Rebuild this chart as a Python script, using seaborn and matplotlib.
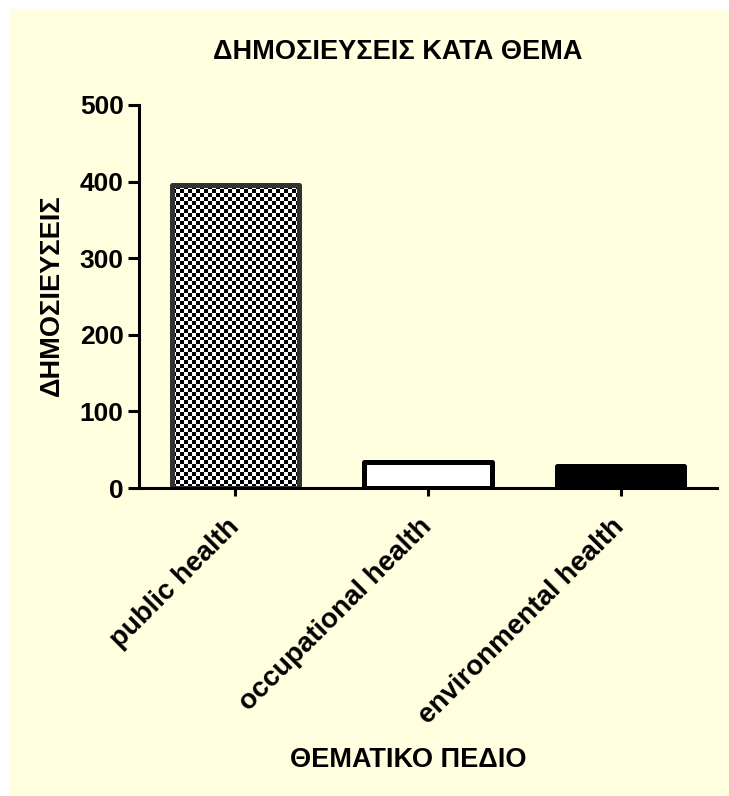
import numpy as np
import pandas as pd
import matplotlib
matplotlib.use("Agg")
import matplotlib.pyplot as plt
from matplotlib.patches import Rectangle
import seaborn as sns

categories = ["public health", "occupational health", "environmental health"]
values = [395, 34, 29]
title = "ΔΗΜΟΣΙΕΥΣΕΙΣ ΚΑΤΑ ΘΕΜΑ"
xlabel = "ΘΕΜΑΤΙΚΟ ΠΕΔΙΟ"
ylabel = "ΔΗΜΟΣΙΕΥΣΕΙΣ"
yticks = [0, 100, 200, 300, 400, 500]

BG = "#FFFEDF"
sns.set_style("white")
plt.rcParams["font.family"] = ["Liberation Sans", "DejaVu Sans"]
plt.rcParams["font.weight"] = "bold"
for k in ["text.color", "axes.labelcolor", "xtick.color", "ytick.color"]:
    plt.rcParams[k] = "black"

W, H = 729, 796
fig = plt.figure(figsize=(W / 100, H / 100), dpi=100)
fig.patch.set_facecolor(BG)
# white margin strips on the left and top edges
fig.patches.append(Rectangle((0, 0), 9 / W, 1, transform=fig.transFigure,
                             facecolor="white", edgecolor="none", zorder=-10))
fig.patches.append(Rectangle((0, 1 - 9 / H), 1, 9 / H, transform=fig.transFigure,
                             facecolor="white", edgecolor="none", zorder=-10))

left, right, bottom, top = 139, 717, 488, 105
ax = fig.add_axes([left / W, 1 - bottom / H, (right - left) / W, (bottom - top) / H])
ax.patch.set_alpha(0)

df = pd.DataFrame({"cat": categories, "val": values})
sns.barplot(data=df, x="cat", y="val", ax=ax, width=0.66, color="white", saturation=1)

ax.set_xlim(-0.5, 2.5)
ax.set_ylim(0, 500)

faces = ["none", "white", "black"]
edges = ["#333333", "black", "black"]
for p, fc, ec in zip(ax.patches, faces, edges):
    p.set_facecolor(fc)
    p.set_edgecolor(ec)
    p.set_linewidth(3.6)
    p.set_joinstyle("round")
    p.set_zorder(3)

# checkerboard fill for first bar, clipped to the bar
p0 = ax.patches[0]
x0, y0, bw, bh = p0.get_x(), p0.get_y(), p0.get_width(), p0.get_height()
fig.canvas.draw()
(px0, py0), (px1, py1) = ax.transData.transform([(x0, y0), (x0 + bw, y0 + bh)])
cell = 4.0
nx = int(round(abs(px1 - px0) / cell))
ny = int(round(abs(py1 - py0) / cell))
ii, jj = np.indices((ny, nx))
board = ((ii + jj) % 2).astype(float)
im = ax.imshow(board, cmap="gray", vmin=0, vmax=1, interpolation="nearest",
               extent=(x0, x0 + bw, y0, y0 + bh), aspect="auto", zorder=2, origin="lower")
im.set_clip_path(p0)
ax.set_xlim(-0.5, 2.5)
ax.set_ylim(0, 500)

for s in ["top", "right"]:
    ax.spines[s].set_visible(False)
for s in ["left", "bottom"]:
    ax.spines[s].set_linewidth(2.2)
    ax.spines[s].set_color("black")
    ax.spines[s].set_zorder(4)

ax.set_yticks(yticks)
ax.set_yticklabels([str(v) for v in yticks], fontsize=19, fontweight="bold")
ax.tick_params(axis="y", length=8, width=2.2, pad=3, left=True, direction="out")
ax.tick_params(axis="x", length=6, width=2.2, pad=19, bottom=True, direction="out")
ax.set_xticks(range(len(categories)))
ax.set_xticklabels(categories, rotation=45, ha="right", va="center", rotation_mode="anchor",
                   fontsize=20, fontweight="bold")

ax.set_xlabel(xlabel, fontsize=19.5, fontweight="bold")
ax.xaxis.set_label_coords((408 - left) / (right - left), (bottom - 760) / (bottom - top))
ax.xaxis.label.set_va("center")
ax.set_ylabel(ylabel, fontsize=19.5, fontweight="bold")
ax.yaxis.set_label_coords((52 - left) / (right - left), (bottom - 295) / (bottom - top))
ax.yaxis.label.set_va("center")

fig.text(398 / W, 1 - 52 / H, title, ha="center", va="center", fontsize=19.5, fontweight="bold")

fig.savefig("out.png", dpi=100, facecolor=fig.get_facecolor())
